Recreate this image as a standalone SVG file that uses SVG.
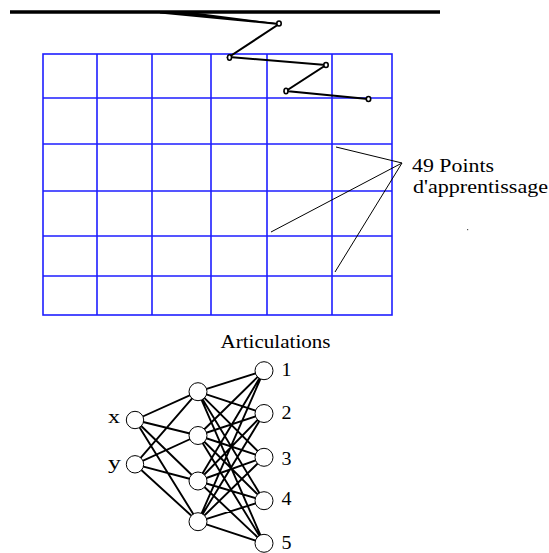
<svg xmlns="http://www.w3.org/2000/svg" width="549" height="553" viewBox="0 0 549 553">
<style>
.grid{stroke:#1e1eff;stroke-width:1.6;fill:none}
.arm{stroke:#000;stroke-width:2;fill:none}
.joint{stroke:#000;stroke-width:1.6;fill:#fff}
.lead{stroke:#000;stroke-width:1;fill:none}
.edge{stroke:#000;stroke-width:1.9}
.node{fill:#fff;stroke:#000;stroke-width:1}
.t{font-family:"Liberation Serif","Times New Roman",serif;font-size:19px;fill:#000}
</style>
<rect width="549" height="553" fill="#fff"/>
<g id="grid" class="grid">
<rect x="43" y="54" width="349" height="261"/>
<path d="M97 54V315M152 54V315M211 54V315M267 54V315M332 54V315M43 98H392M43 144H392M43 191H392M43 236H392M43 276H392"/>
</g>
<g id="arm">
<line x1="10" y1="12" x2="440" y2="12" stroke="#000" stroke-width="3.5"/>
<polygon points="160,12 190,12 279,23.5 279,24.5" fill="#000"/>
<polyline class="arm" points="160,12.5 279,24 229,57 326,65 286,91 368,99"/>
<ellipse class="joint" cx="279" cy="23.5" rx="2.2" ry="2.5"/>
<ellipse class="joint" cx="229.5" cy="57.5" rx="2" ry="2.7"/>
<ellipse class="joint" cx="326" cy="65" rx="2.2" ry="2.5"/>
<ellipse class="joint" cx="286" cy="91" rx="2" ry="2.7"/>
<ellipse class="joint" cx="368.5" cy="99" rx="2.2" ry="2.5"/>
</g>
<g id="leaders" class="lead">
<line x1="336" y1="147" x2="402" y2="163"/>
<line x1="271" y1="232" x2="402" y2="163"/>
<line x1="335" y1="272" x2="402" y2="163"/>
</g>
<g id="label-points">
<text class="t" x="412" y="171.5" textLength="82" lengthAdjust="spacingAndGlyphs">49 Points</text>
<text class="t" x="413" y="192.5" textLength="135" lengthAdjust="spacingAndGlyphs">d'apprentissage</text>
</g>
<rect x="467" y="229" width="1.2" height="1.2" fill="#555"/>
<g id="connectors" class="edge">
<path d="M135 420L198 391.7M135 420L198 435.5M135 420L198 481M135 420L198 521.7M135 464.3L198 391.7M135 464.3L198 435.5M135 464.3L198 481M135 464.3L198 521.7"/>
<path d="M198 391.7L264 370.7M198 391.7L264 413.5M198 391.7L264 457.3M198 391.7L264 500.7M198 391.7L264 543.3M198 435.5L264 370.7M198 435.5L264 413.5M198 435.5L264 457.3M198 435.5L264 500.7M198 435.5L264 543.3M198 481L264 370.7M198 481L264 413.5M198 481L264 457.3M198 481L264 500.7M198 481L264 543.3M198 521.7L264 370.7M198 521.7L264 413.5M198 521.7L264 457.3M198 521.7L264 500.7M198 521.7L264 543.3"/>
</g>
<text class="t" x="220.5" y="347.7" textLength="110" lengthAdjust="spacingAndGlyphs">Articulations</text>
<g id="in-x"><circle class="node" cx="135" cy="420" r="8.7"/><text class="t" x="108" y="422.7" textLength="12" lengthAdjust="spacingAndGlyphs">x</text></g>
<g id="in-y"><circle class="node" cx="135" cy="464.3" r="8.7"/><text class="t" x="108" y="468.5" textLength="13" lengthAdjust="spacingAndGlyphs">y</text></g>
<g id="h1"><circle class="node" cx="198" cy="391.7" r="9"/></g>
<g id="h2"><circle class="node" cx="198" cy="435.5" r="9"/></g>
<g id="h3"><circle class="node" cx="198" cy="481" r="9"/></g>
<g id="h4"><circle class="node" cx="198" cy="521.7" r="9"/></g>
<g id="o1"><circle class="node" cx="264" cy="370.7" r="9"/><text class="t" x="281.5" y="375.5" textLength="10" lengthAdjust="spacingAndGlyphs">1</text></g>
<g id="o2"><circle class="node" cx="264" cy="413.5" r="9"/><text class="t" x="281.5" y="418.5" textLength="10" lengthAdjust="spacingAndGlyphs">2</text></g>
<g id="o3"><circle class="node" cx="264" cy="457.3" r="9"/><text class="t" x="281.5" y="465" textLength="10" lengthAdjust="spacingAndGlyphs">3</text></g>
<g id="o4"><circle class="node" cx="264" cy="500.7" r="9"/><text class="t" x="281.5" y="505" textLength="10" lengthAdjust="spacingAndGlyphs">4</text></g>
<g id="o5"><circle class="node" cx="264" cy="543.3" r="9"/><text class="t" x="281.5" y="549" textLength="10" lengthAdjust="spacingAndGlyphs">5</text></g>
</svg>
